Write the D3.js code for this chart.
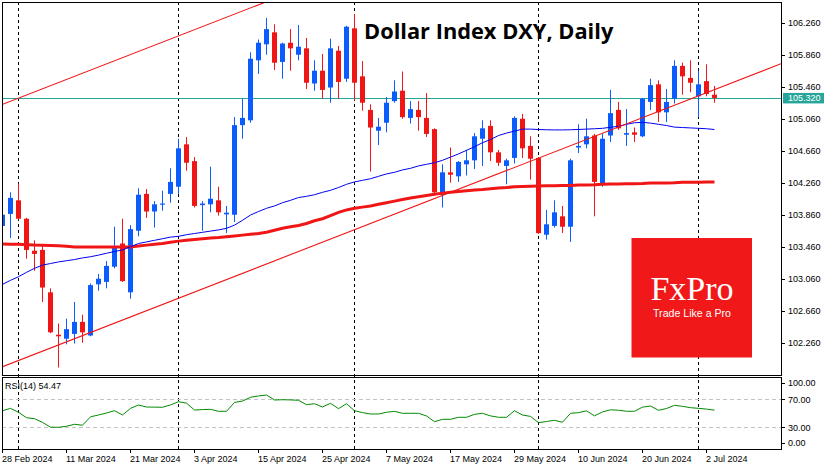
<!DOCTYPE html>
<html><head><meta charset="utf-8">
<script src="https://cdn.jsdelivr.net/npm/d3@7"></script>
<style>body{margin:0;background:#fff}svg{display:block}</style>
</head><body><svg id="c" width="835" height="470"></svg>
<script>
const dates = [
"2024-02-28","2024-02-29",
"2024-03-01","2024-03-04","2024-03-05","2024-03-06","2024-03-07","2024-03-08","2024-03-11","2024-03-12","2024-03-13","2024-03-14",
"2024-03-15","2024-03-18","2024-03-19","2024-03-20","2024-03-21","2024-03-22","2024-03-25","2024-03-26","2024-03-27","2024-03-28",
"2024-04-01","2024-04-02","2024-04-03","2024-04-04","2024-04-05","2024-04-08","2024-04-09","2024-04-10","2024-04-11","2024-04-12",
"2024-04-15","2024-04-16","2024-04-17","2024-04-18","2024-04-19","2024-04-22","2024-04-23","2024-04-24","2024-04-25","2024-04-26",
"2024-04-29","2024-04-30",
"2024-05-01","2024-05-02","2024-05-03","2024-05-06","2024-05-07","2024-05-08","2024-05-09","2024-05-10","2024-05-13","2024-05-14",
"2024-05-15","2024-05-16","2024-05-17","2024-05-20","2024-05-21","2024-05-22","2024-05-23","2024-05-24","2024-05-27","2024-05-28",
"2024-05-29","2024-05-30","2024-05-31",
"2024-06-03","2024-06-04","2024-06-05","2024-06-06","2024-06-07","2024-06-10","2024-06-11","2024-06-12","2024-06-13","2024-06-14",
"2024-06-17","2024-06-18","2024-06-19","2024-06-20","2024-06-21","2024-06-24","2024-06-25","2024-06-26","2024-06-27","2024-06-28",
"2024-07-01","2024-07-02","2024-07-03"];

const open = [103.72,103.87,104.04,103.81,103.41,103.42,102.89,102.36,102.31,102.37,
102.52,102.35,102.99,103.02,103.21,103.50,102.89,103.66,104.12,103.90,
103.99,104.12,104.21,104.74,104.53,103.98,103.99,104.04,103.865,103.86,
104.98,105.04,105.79,105.99,106.14,105.77,106.01,105.86,105.94,105.50,
105.66,105.45,105.91,105.56,106.19,105.59,105.17,104.91,105.01,105.28,
105.41,105.07,105.17,105.07,104.93,104.11,104.39,104.34,104.49,104.54,
104.81,104.97,104.64,104.47,104.57,105.06,104.72,104.57,103.61,103.72,
103.84,103.71,104.70,104.74,104.85,104.25,104.85,105.17,104.86,104.89,
104.84,105.27,105.49,105.14,105.31,105.72,105.57,105.34,105.53,105.36];
const high = [103.88,104.14,104.25,103.82,103.54,103.49,102.94,102.50,102.56,102.77,
102.61,103.00,103.12,103.28,103.71,103.81,103.73,104.19,104.18,104.03,
104.16,104.44,104.81,104.83,104.58,104.03,104.46,104.21,103.97,105.08,
105.31,105.89,106.05,106.32,106.24,106.01,106.18,106.23,106.07,105.79,
105.87,106.06,105.97,106.22,106.37,105.78,105.24,105.07,105.33,105.54,
105.65,105.28,105.28,105.38,104.94,104.49,104.70,104.53,104.67,104.88,
105.04,105.04,104.67,104.56,105.09,105.12,104.84,104.58,103.92,104.04,
103.97,104.56,104.99,105.06,104.87,104.87,105.42,105.27,105.18,104.95,
105.32,105.56,105.54,105.43,105.79,105.76,105.79,105.66,105.74,105.47];
const low = [103.70,103.57,103.80,103.31,103.16,102.77,102.38,101.95,102.24,102.25,
102.26,102.34,102.91,102.94,103.19,103.02,102.81,103.59,103.82,103.70,
103.91,104.01,104.12,104.41,103.95,103.66,103.89,103.85,103.63,103.77,
104.81,105.01,105.62,105.86,105.67,105.56,105.66,105.79,105.43,105.41,
105.31,105.26,105.31,105.52,105.29,105.16,104.40,104.73,104.89,105.26,
105.06,105.00,104.91,104.83,104.13,103.95,104.26,104.27,104.35,104.43,
104.47,104.53,104.47,104.24,104.50,104.57,104.30,103.62,103.55,103.70,
103.63,103.52,104.63,104.69,103.84,104.21,104.77,104.92,104.72,104.77,
104.83,105.17,105.02,105.02,105.25,105.36,105.39,105.08,105.34,105.26];
const close = [103.86,104.07,103.81,103.42,103.37,102.95,102.39,102.34,102.43,102.52,
102.39,102.98,103.06,103.22,103.45,103.03,103.68,104.11,103.90,103.99,
104.00,104.27,104.69,104.51,103.97,104.00,104.06,103.89,103.885,104.98,
105.07,105.81,106.01,106.18,105.76,106.00,105.94,105.96,105.51,105.66,
105.42,105.94,105.52,106.21,105.51,105.26,104.95,104.96,105.26,105.40,
105.08,105.18,105.08,104.87,104.14,104.39,104.36,104.52,104.54,104.84,
104.94,104.64,104.51,104.54,105.07,104.69,104.56,103.63,103.74,103.89,
103.71,104.54,104.72,104.84,104.27,104.81,105.13,104.94,104.88,104.86,
105.31,105.48,105.14,105.27,105.72,105.59,105.51,105.49,105.37,105.32];

const maFast = [102.99,103.04,103.085,103.14,103.19,103.23,103.25,103.27,103.285,103.30,
103.32,103.335,103.355,103.378,103.40,103.42,103.46,103.50,103.52,103.54,
103.56,103.58,103.59,103.61,103.625,103.64,103.655,103.67,103.69,103.73,
103.79,103.856,103.90,103.94,103.97,104.01,104.04,104.075,104.09,104.11,
104.14,104.165,104.20,104.24,104.27,104.29,104.31,104.34,104.37,104.39,
104.42,104.44,104.47,104.49,104.51,104.54,104.58,104.62,104.665,104.71,
104.76,104.80,104.85,104.88,104.905,104.93,104.93,104.925,104.922,104.92,
104.92,104.922,104.926,104.93,104.935,104.94,104.953,104.965,104.99,105.01,
105.015,105.005,104.99,104.975,104.955,104.95,104.945,104.94,104.935,104.925];
const maSlow = [103.494,103.49,103.49,103.485,103.48,103.478,103.475,103.473,103.465,103.456,
103.456,103.456,103.456,103.456,103.456,103.456,103.456,103.47,103.48,103.49,
103.50,103.515,103.53,103.54,103.55,103.56,103.57,103.575,103.585,103.595,
103.605,103.615,103.625,103.64,103.665,103.69,103.71,103.725,103.75,103.785,
103.81,103.85,103.89,103.92,103.94,103.955,103.97,103.99,104.01,104.03,
104.05,104.07,104.085,104.10,104.115,104.13,104.14,104.15,104.16,104.17,
104.175,104.185,104.195,104.20,104.21,104.213,104.217,104.22,104.223,104.223,
104.224,104.225,104.23,104.232,104.234,104.24,104.243,104.245,104.246,104.248,
104.25,104.255,104.256,104.258,104.26,104.265,104.266,104.267,104.268,104.27];
const rsi = [53.7,57.1,51.4,43.7,42.3,37,30.2,30,31.5,34.3,
33,45,47.6,50.4,53.7,47.6,57,61.9,59,58.8,
58.6,62,66.6,64.5,54.7,55.3,55.7,52.9,52.9,65.5,
67.5,72.9,74.8,76.1,69,69.4,69.1,68.6,62.3,63.7,
59,64.3,56.6,63.7,53.7,51,49,49,51.5,52.8,
50,50,50,46.2,38,41.4,41.4,44.3,44.3,48.5,
50,46.3,44.3,44.3,53.7,47.5,45.6,36.6,38.3,40,
37.2,50,50.9,53.5,46.3,52,55,54.4,52.9,52.9,
58.8,60.4,54.3,56.8,61.4,60,58,57.1,56,54.47];

const priceTicks = [102.26,102.66,103.06,103.46,103.86,104.26,104.66,105.06,105.46,105.86,106.26];
const rsiTicks = [100,70,30,0];
const rsiLevels = [70,30];
const tickDates = ["2024-02-28","2024-03-11","2024-03-21","2024-04-03","2024-04-15","2024-04-25","2024-05-07","2024-05-17","2024-05-29","2024-06-10","2024-06-20","2024-07-02"];
const tickLabels = ["28 Feb 2024","11 Mar 2024","21 Mar 2024","3 Apr 2024","15 Apr 2024","25 Apr 2024","7 May 2024","17 May 2024","29 May 2024","10 Jun 2024","20 Jun 2024","2 Jul 2024"];
const monthStarts = ["2024-03-01","2024-04-01","2024-05-01","2024-06-03","2024-07-01"];
const channelLower = [["2024-02-28",101.96],["2024-07-03",105.424]];
const channelUpper = [["2024-02-28",105.24],["2024-07-03",108.70]];
const lastPrice = 105.32;
const rsiLabel = "RSI(14) 54.47";
const title = "Dollar Index DXY, Daily";

const svg = d3.select("#c");
const L = 2, R = 781, T = 2, B = 375, RT = 377, RB = 449;
const BULL = "#0b5cff", BEAR = "#f01616";
const FONT = "'Liberation Sans', Arial, sans-serif";

const x = d3.scaleBand().domain(dates).range([-1.5, -1.5 + 8 * dates.length]).paddingInner(0);
const cx = d => x(d) + x.bandwidth() / 2;
const y = d3.scaleLinear().domain([101.8565, 106.544]).range([375, 0]);
const yR = d3.scaleLinear().domain([0, 100]).range([448.3, 378.3]);

svg.append("rect").attr("width", 835).attr("height", 470).attr("fill", "#fff");
const defs = svg.append("defs");
defs.append("clipPath").attr("id", "cm").append("rect").attr("x", L + 0.5).attr("y", T + 0.5).attr("width", R - L - 0.5).attr("height", B - T - 0.5);
defs.append("clipPath").attr("id", "cr").append("rect").attr("x", L + 0.5).attr("y", RT + 0.5).attr("width", R - L - 0.5).attr("height", RB - RT - 0.5);

// period separators (behind everything)
const gsep = svg.append("g");
monthStarts.forEach(d => {
  const xx = Math.round(cx(d) - 0.5) + 0.5;
  gsep.append("line").attr("x1", xx).attr("x2", xx).attr("y1", T).attr("y2", RB)
    .attr("stroke", "#000").attr("stroke-width", 1).attr("stroke-dasharray", "3,3");
});

const gm = svg.append("g").attr("clip-path", "url(#cm)");
const gr = svg.append("g").attr("clip-path", "url(#cr)");

// price line
gm.append("line").attr("x1", L).attr("x2", R).attr("y1", Math.round(y(lastPrice)) + 0.5).attr("y2", Math.round(y(lastPrice)) + 0.5)
  .attr("stroke", "#26a69a").attr("stroke-width", 1);

// candles
const idx = d3.range(dates.length);
gm.selectAll(".wick").data(idx).join("rect")
  .attr("x", i => cx(dates[i]) - 0.5).attr("width", 1)
  .attr("y", i => y(high[i])).attr("height", i => Math.max(1, y(low[i]) - y(high[i])))
  .attr("fill", i => close[i] >= open[i] ? BULL : BEAR);
gm.selectAll(".body").data(idx).join("rect")
  .attr("x", i => cx(dates[i]) - 2.5).attr("width", 5)
  .attr("y", i => y(Math.max(open[i], close[i])))
  .attr("height", i => Math.max(1.2, Math.abs(y(open[i]) - y(close[i]))))
  .attr("fill", i => close[i] >= open[i] ? BULL : BEAR);

// moving averages
const lineGen = arr => d3.line().x(i => cx(dates[i])).y(i => y(arr[i]))(idx);
gm.append("path").attr("d", lineGen(maSlow)).attr("fill", "none").attr("stroke", "#f01616").attr("stroke-width", 3);
gm.append("path").attr("d", lineGen(maFast)).attr("fill", "none").attr("stroke", "#0000f0").attr("stroke-width", 1);

// channel lines (extended to panel edges)
function drawTrend(pts) {
  const x1 = cx(pts[0][0]), y1 = y(pts[0][1]), x2 = cx(pts[1][0]), y2 = y(pts[1][1]);
  const k = (y2 - y1) / (x2 - x1);
  gm.append("line").attr("x1", L).attr("y1", y1 + k * (L - x1)).attr("x2", R).attr("y2", y1 + k * (R - x1))
    .attr("stroke", "#f01616").attr("stroke-width", 1.1);
}
drawTrend(channelLower);
drawTrend(channelUpper);

// RSI
rsiLevels.forEach(v => {
  gr.append("line").attr("x1", L).attr("x2", R).attr("y1", Math.round(yR(v)) + 0.5).attr("y2", Math.round(yR(v)) + 0.5)
    .attr("stroke", "#c4c4c4").attr("stroke-dasharray", "4,3");
});
gr.append("path").attr("d", d3.line().x(i => cx(dates[i])).y(i => yR(rsi[i]))(idx))
  .attr("fill", "none").attr("stroke", "#008a00").attr("stroke-width", 1);
svg.append("text").attr("x", 5).attr("y", 389).attr("font-family", FONT).attr("font-size", 9).attr("fill", "#000").text(rsiLabel);

// frames
svg.append("rect").attr("x", L + 0.5).attr("y", T + 0.5).attr("width", R - L).attr("height", B - T).attr("fill", "none").attr("stroke", "#000").attr("stroke-width", 1);
svg.append("rect").attr("x", L + 0.5).attr("y", RT + 0.5).attr("width", R - L).attr("height", RB - RT).attr("fill", "none").attr("stroke", "#000").attr("stroke-width", 1);

// price axis
const ya = svg.append("g");
priceTicks.forEach(v => {
  const yy = y(v);
  ya.append("line").attr("x1", R).attr("x2", R + 4).attr("y1", Math.round(yy) + 0.5).attr("y2", Math.round(yy) + 0.5).attr("stroke", "#000");
  ya.append("text").attr("x", 788).attr("y", yy + 3.3).attr("font-family", FONT).attr("font-size", 9).attr("fill", "#000").text(v.toFixed(3));
});
// last price label
ya.append("rect").attr("x", 783).attr("y", y(lastPrice) - 5).attr("width", 41).attr("height", 10.5).attr("fill", "#26a69a");
ya.append("text").attr("x", 788).attr("y", y(lastPrice) + 3.3).attr("font-family", FONT).attr("font-size", 9).attr("fill", "#fff").text(lastPrice.toFixed(3));

// RSI axis
rsiTicks.forEach(v => {
  const yy = Math.max(382.7, Math.min(443, yR(v)));
  ya.append("line").attr("x1", R).attr("x2", R + 4).attr("y1", Math.round(yy) + 0.5).attr("y2", Math.round(yy) + 0.5).attr("stroke", "#000");
  ya.append("text").attr("x", 788).attr("y", yy + 3.3).attr("font-family", FONT).attr("font-size", 9).attr("fill", "#000").text(v.toFixed(2));
});

// time axis
tickDates.forEach((d, k) => {
  const xx = Math.round(cx(d) - 0.5) + 0.5;
  svg.append("line").attr("x1", xx).attr("x2", xx).attr("y1", RB).attr("y2", RB + 4).attr("stroke", "#000");
  svg.append("text").attr("x", cx(d) - 0.5).attr("y", 462).attr("font-family", FONT).attr("font-size", 9).attr("fill", "#000").text(tickLabels[k]);
});

// title
svg.append("text").attr("x", 364).attr("y", 38.5).attr("font-family", "'Open Sans', 'Noto Sans', sans-serif")
  .attr("font-weight", 700).attr("font-size", 21.8).attr("fill", "#000").text(title);

// logo
const lg = svg.append("g");
lg.append("rect").attr("x", 631.5).attr("y", 238).attr("width", 120.5).attr("height", 119.5).attr("fill", "#f01818");
lg.append("text").attr("x", 692).attr("y", 300).attr("text-anchor", "middle").attr("font-family", "'Liberation Serif', 'DejaVu Serif', serif")
  .attr("font-size", 34).attr("fill", "#fff").text("FxPro");
lg.append("text").attr("x", 692).attr("y", 316.5).attr("text-anchor", "middle").attr("font-family", FONT)
  .attr("font-size", 10.6).attr("fill", "#fff").text("Trade Like a Pro");
</script></body></html>
